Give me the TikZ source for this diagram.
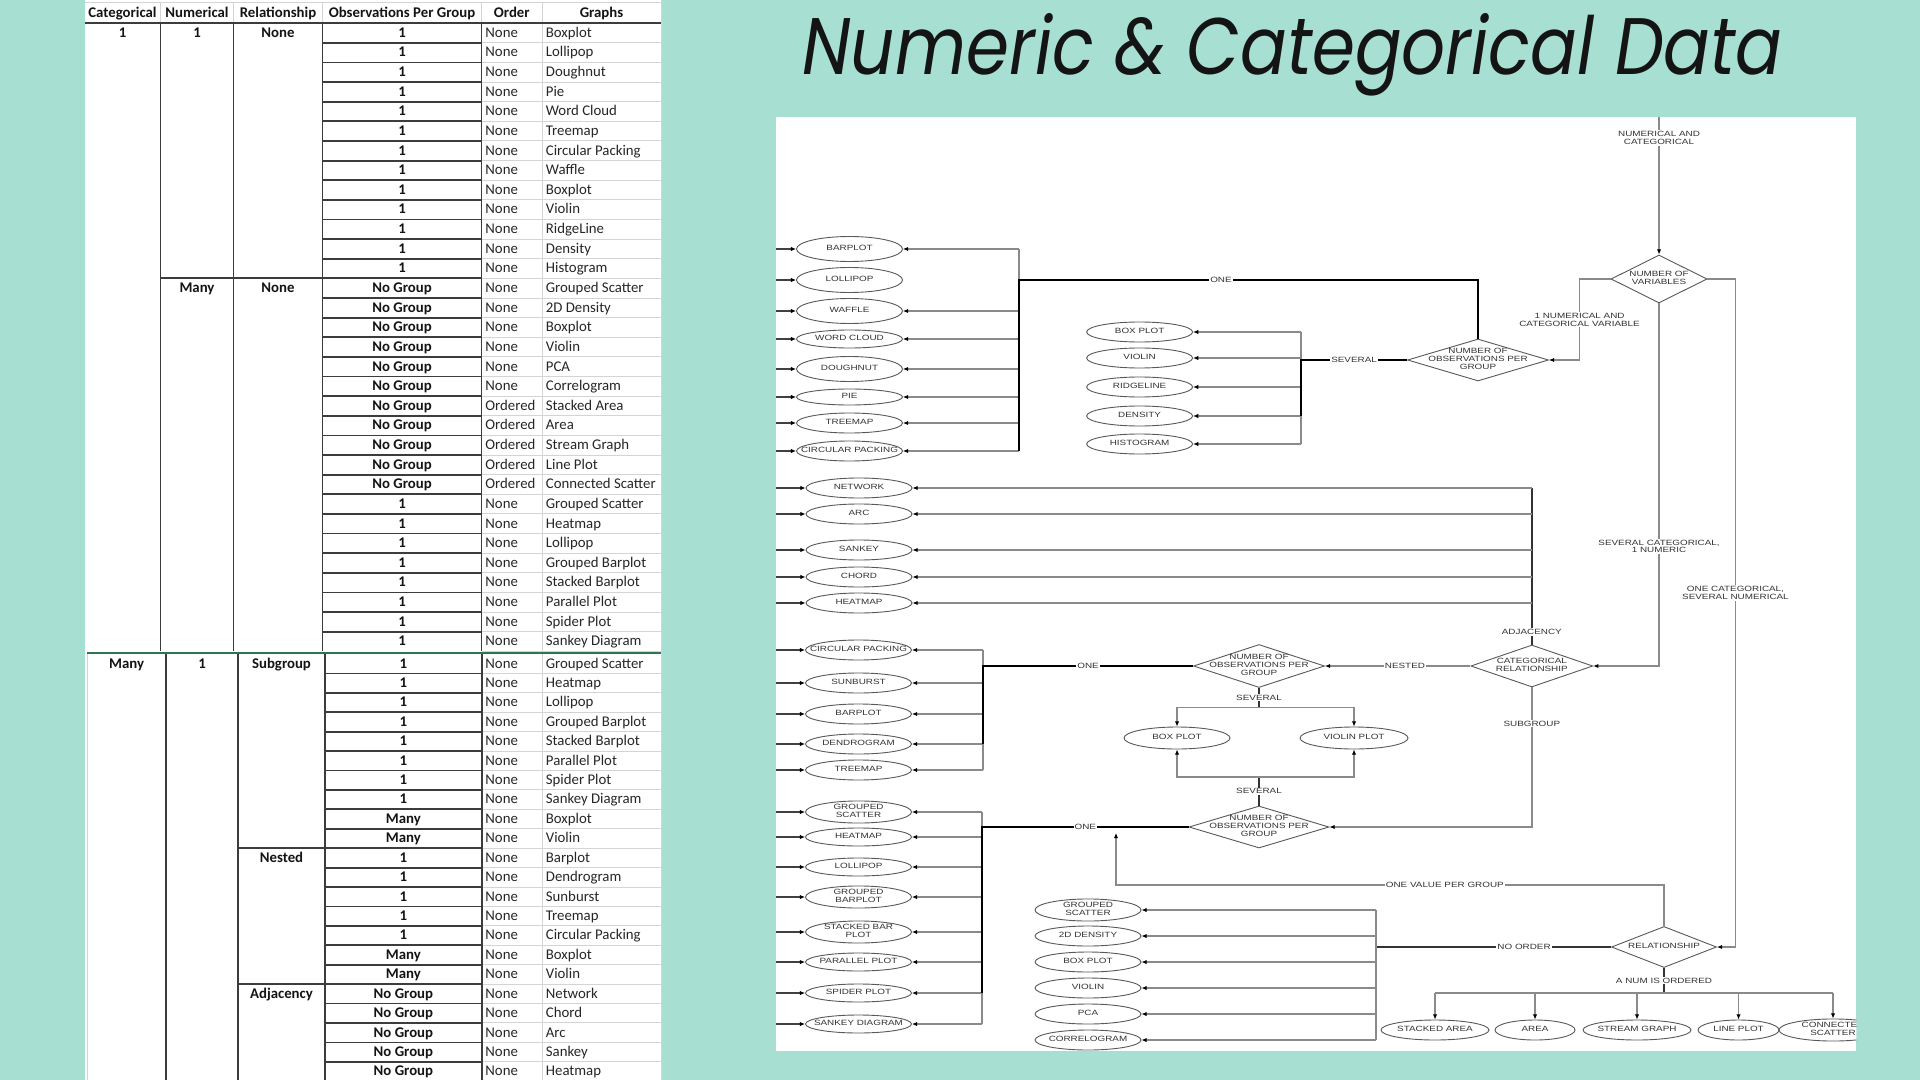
\documentclass[tikz,border=0pt]{standalone}
\usepackage{fontspec}
\usepackage{graphicx}
\usetikzlibrary{arrows.meta,shapes.geometric,calc}
\newfontfamily\tabfont{Carlito}
\newfontfamily\flowfont{Liberation Sans}[FakeStretch=1.3]
\newfontfamily\titlefont{Poppins}
\definecolor{Teal}{HTML}{A8DFD3}
\definecolor{RuleDark}{HTML}{3C3C3C}
\definecolor{GridGray}{HTML}{D4D4D4}
\definecolor{SplitGreen}{HTML}{2E7550}
\definecolor{WireGray}{HTML}{8A8A8A}
\newcommand{\nb}[1]{\makebox[0pt]{\begin{tabular}{@{}c@{}}#1\end{tabular}}}

\begin{document}
\begin{tikzpicture}[x=0.5pt,y=-0.5pt,
    cell/.style={inner sep=0pt,font=\tabfont\fontsize{7.4}{8.5}\selectfont,text=black!85},
    hcell/.style={cell,font=\tabfont\bfseries\fontsize{7.4}{8.5}\selectfont,text=black!92},
    darkrule/.style={RuleDark,line width=0.9pt},
    gridrule/.style={GridGray,line width=0.5pt},
    chart/.style={fill=white,minimum width=540pt,minimum height=466.5pt,inner sep=0pt},
    plot/.style={ellipse,draw=black!65,line width=0.45pt,fill=white,
                 minimum width=53pt,minimum height=10pt,inner sep=0pt,
                 font=\flowfont\fontsize{3.8}{3.9}\selectfont,text=black!80},
    decide/.style={diamond,draw=black!65,line width=0.45pt,fill=white,inner sep=0pt,
                 font=\flowfont\fontsize{3.8}{3.9}\selectfont,text=black!80},
    wire/.style={WireGray,line width=0.75pt},
    darkwire/.style={black!80,line width=0.75pt},
    mainwire/.style={black,line width=1.1pt},
    arr/.style={wire,-{Latex[length=2.6pt,width=2.2pt,color=black]}},
    stub/.style={arr,black!75},
    lbl/.style={fill=white,inner sep=0.5pt,align=center,
                font=\flowfont\fontsize{3.8}{3.9}\selectfont,text=black!80}]

  \useasboundingbox (0,0) rectangle (1920,1080);
  \fill[Teal] (0,0) rectangle (1920,1080);

  % spreadsheet
  \fill[white] (84.5,0) rectangle (661,1080);
  \draw[gridrule] (84.5,3) -- (661,3);
  \foreach \x in {160.5,233.5,322.5,481.5,542}
    \draw[gridrule] (\x,3) -- (\x,23.2);
  \foreach \k in {1,...,32}
    \draw[gridrule] (481.5,{23.2+19.63*\k}) -- (661,{23.2+19.63*\k});
  \foreach \k in {1,...,21}
    \draw[gridrule] (481.8,{654+19.42*\k}) -- (661,{654+19.42*\k});
  \draw[gridrule] (542,23.2) -- (542,1080);
  \draw[gridrule] (661,0) -- (661,1080);
  \draw[gridrule] (87.5,654) -- (87.5,1080);

  \draw[darkrule] (84.5,23.2) -- (661,23.2);
  \foreach \x in {160.5,233.5,322.5,481.5}
    \draw[darkrule] (\x,23.2) -- (\x,651.4);
  \foreach \k in {1,...,31}
    \draw[darkrule] (322.5,{23.2+19.63*\k}) -- (481.5,{23.2+19.63*\k});
  \draw[darkrule] (160.5,278.4) -- (322.5,278.4);
  \foreach \x in {166,238,325,481.8}
    \draw[darkrule] (\x,654) -- (\x,1080);
  \foreach \k in {1,...,21}
    \draw[darkrule] (325,{654+19.42*\k}) -- (481.8,{654+19.42*\k});
  \draw[darkrule] (238,848.2) -- (325,848.2) (238,984.1) -- (325,984.1);
  \draw[SplitGreen,line width=1pt] (87,652.6) -- (661,652.6);

  % header
  \foreach \n/\x/\txt in {hcat/122.5/Categorical, hnum/197/Numerical,
      hrel/278/Relationship, hobs/402/Observations Per Group,
      hord/511.8/Order, hgr/601.5/Graphs}
    \node[hcell,anchor=mid] (\n) at (\x,13.5) {\txt};

  % one categorical
  \node[hcell,anchor=mid] (cat1) at (122.5,33) {1};
  \node[hcell,anchor=mid] (num1) at (197,33) {1};
  \node[hcell,anchor=mid] (rel1) at (278,33) {None};
  \node[hcell,anchor=mid] (num2) at (197,288.2) {Many};
  \node[hcell,anchor=mid] (rel2) at (278,288.2) {None};
  \foreach \i/\ob/\od/\gr in {0/1/None/Boxplot, 1/1/None/Lollipop, 2/1/None/Doughnut,
      3/1/None/Pie, 4/1/None/Word Cloud, 5/1/None/Treemap, 6/1/None/Circular Packing,
      7/1/None/Waffle, 8/1/None/Boxplot, 9/1/None/Violin, 10/1/None/RidgeLine,
      11/1/None/Density, 12/1/None/Histogram, 13/No Group/None/Grouped Scatter,
      14/No Group/None/2D Density, 15/No Group/None/Boxplot, 16/No Group/None/Violin,
      17/No Group/None/PCA, 18/No Group/None/Correlogram, 19/No Group/Ordered/Stacked Area,
      20/No Group/Ordered/Area, 21/No Group/Ordered/Stream Graph,
      22/No Group/Ordered/Line Plot, 23/No Group/Ordered/Connected Scatter,
      24/1/None/Grouped Scatter, 25/1/None/Heatmap, 26/1/None/Lollipop,
      27/1/None/Grouped Barplot, 28/1/None/Stacked Barplot, 29/1/None/Parallel Plot,
      30/1/None/Spider Plot, 31/1/None/Sankey Diagram}{
    \node[hcell,anchor=mid] (oa\i) at (402,{33+19.63*\i}) {\ob};
    \node[cell,anchor=mid west] (da\i) at (485,{33+19.63*\i}) {\od};
    \node[cell,anchor=mid west] (ga\i) at (545.5,{33+19.63*\i}) {\gr};
  }

  % many categorical
  \node[hcell,anchor=mid] (cat2) at (126.7,663.7) {Many};
  \node[hcell,anchor=mid] (num3) at (202,663.7) {1};
  \node[hcell,anchor=mid] (rel3) at (281.5,663.7) {Subgroup};
  \node[hcell,anchor=mid] (rel4) at (281.5,857.9) {Nested};
  \node[hcell,anchor=mid] (rel5) at (281.5,993.8) {Adjacency};
  \foreach \i/\ob/\gr in {0/1/Grouped Scatter, 1/1/Heatmap, 2/1/Lollipop,
      3/1/Grouped Barplot, 4/1/Stacked Barplot, 5/1/Parallel Plot, 6/1/Spider Plot,
      7/1/Sankey Diagram, 8/Many/Boxplot, 9/Many/Violin, 10/1/Barplot,
      11/1/Dendrogram, 12/1/Sunburst, 13/1/Treemap, 14/1/Circular Packing,
      15/Many/Boxplot, 16/Many/Violin, 17/No Group/Network, 18/No Group/Chord,
      19/No Group/Arc, 20/No Group/Sankey, 21/No Group/Heatmap}{
    \node[hcell,anchor=mid] (ob\i) at (403.4,{663.7+19.42*\i}) {\ob};
    \node[cell,anchor=mid west] (db\i) at (485,{663.7+19.42*\i}) {None};
    \node[cell,anchor=mid west] (gb\i) at (545.5,{663.7+19.42*\i}) {\gr};
  }

  % title
  \node[anchor=base west,inner sep=0pt,text=black!92] (title) at (802,75)
    {\resizebox{490pt}{30.5pt}{\titlefont\itshape Numeric \& Categorical Data}};

  % flowchart
  \node[chart] (chart) at (1316,584) {};
  \begin{scope}
    \clip (chart.south west) rectangle (chart.north east);

    \foreach \n/\txt/\y/\h in {bar1/BARPLOT/249/12.5, lol1/LOLLIPOP/280/12.5,
        waf/WAFFLE/311/12.5, wc/WORD CLOUD/339/9, dough/DOUGHNUT/369/12.5,
        pie/PIE/397/8, tree1/TREEMAP/423/10, circ1/CIRCULAR PACKING/451/10}
      \node[plot,minimum height=\h pt] (\n) at (849.5,\y) {\nb{\txt}};
    \foreach \n/\txt/\y in {bp1/BOX PLOT/332, vio1/VIOLIN/358, ridge/RIDGELINE/387,
        dens/DENSITY/416, hist/HISTOGRAM/444}
      \node[plot] (\n) at (1139.6,\y) {\nb{\txt}};
    \foreach \n/\txt/\y in {net/NETWORK/488, arc/ARC/514, sank/SANKEY/550,
        chord/CHORD/577, heat1/HEATMAP/603}
      \node[plot] (\n) at (859,\y) {\nb{\txt}};
    \foreach \n/\txt/\y in {circ2/CIRCULAR PACKING/650, sun/SUNBURST/683,
        bar2/BARPLOT/714, dend/DENDROGRAM/744, tree2/TREEMAP/770}
      \node[plot] (\n) at (858.5,\y) {\nb{\txt}};
    \foreach \n/\txt/\y in {gs1/GROUPED\\SCATTER/812, heat2/HEATMAP/837,
        lol2/LOLLIPOP/867, gbar/GROUPED\\BARPLOT/897, sbar/STACKED BAR\\PLOT/932,
        par/PARALLEL PLOT/962, spi/SPIDER PLOT/993, sd/SANKEY DIAGRAM/1024}
      \node[plot,minimum height=9pt] (\n) at (858.5,\y) {\nb{\txt}};
    \foreach \n/\txt/\y in {gs2/GROUPED\\SCATTER/910, dd/2D DENSITY/936,
        bp3/BOX PLOT/962, vio2/VIOLIN/988, pca/PCA/1014, corr/CORRELOGRAM/1040}
      \node[plot] (\n) at (1088,\y) {\nb{\txt}};
    \foreach \n/\txt/\x/\w in {sa/STACKED AREA/1435/54, area/AREA/1535/40,
        sg/STREAM GRAPH/1637/54, lp/LINE PLOT/1738.5/40.5, cs/CONNECTED\\SCATTER/1833/54}
      \node[plot,minimum width=\w pt] (\n) at (\x,1030) {\nb{\txt}};
    \node[plot,minimum height=11pt] (bp2) at (1177,738) {\nb{BOX PLOT}};
    \node[plot,minimum width=54pt,minimum height=11pt] (vp) at (1354,738) {\nb{VIOLIN PLOT}};

    % decisions
    \node[decide,minimum width=48pt,minimum height=24pt] (nvar) at (1659,279)
      {\nb{NUMBER OF\\VARIABLES}};
    \node[decide,minimum width=70.5pt,minimum height=21pt] (obs1) at (1478,360)
      {\nb{NUMBER OF\\OBSERVATIONS PER\\GROUP}};
    \node[decide,minimum width=61pt,minimum height=21pt] (catrel) at (1531.8,666)
      {\nb{CATEGORICAL\\RELATIONSHIP}};
    \node[decide,minimum width=65.5pt,minimum height=21.5pt] (obs2) at (1259,666)
      {\nb{NUMBER OF\\OBSERVATIONS PER\\GROUP}};
    \node[decide,minimum width=70pt,minimum height=21pt] (obs3) at (1259,827)
      {\nb{NUMBER OF\\OBSERVATIONS PER\\GROUP}};
    \node[decide,minimum width=52.5pt,minimum height=20.5pt] (rel) at (1664,947)
      {\nb{RELATIONSHIP}};

    \coordinate (topin) at (1659,117.5);
    \coordinate (busA) at (1019,280);
    \coordinate (busB) at (1301,360);
    \coordinate (busD) at (983,666);
    \coordinate (busE) at (982,827);
    \coordinate (busF) at (1376,947);
    \coordinate (split) at (1259,707.5);
    \coordinate (join) at (1259,777);
    \coordinate (ordsplit) at (1664,993);
    \coordinate (valbend) at (1116,885);
    \coordinate (valtip) at (1116,833);

    % number of variables
    \draw[arr] (topin) -- node[lbl,pos=0.15]{NUMERICAL AND\\CATEGORICAL} (nvar.north);
    \draw[arr] (nvar.west) -- ++(-31,0) |- node[lbl,pos=0.25]
      {1 NUMERICAL AND\\CATEGORICAL VARIABLE} (obs1.east);
    \draw[arr] (nvar.south) |- node[lbl,pos=0.335]
      {SEVERAL CATEGORICAL,\\1 NUMERIC} (catrel.east);
    \draw[arr] (nvar.east) -- ++(28,0) |- node[lbl,pos=0.235]
      {ONE CATEGORICAL,\\SEVERAL NUMERICAL} (rel.east);

    % one categorical, one numerical
    \draw[wire] (bar1.east -| busA) -- (circ1.east -| busA);
    \foreach \n in {bar1,waf,wc,dough,pie,tree1,circ1}
      \draw[arr] (\n.east -| busA) -- (\n.east);
    \draw[mainwire] (obs1.north) |- node[lbl,pos=0.78]{ONE} (busA)
      -- (circ1.east -| busA);
    \draw[wire] (bp1.east -| busB) -- (hist.east -| busB);
    \foreach \n in {bp1,vio1,ridge,dens,hist}
      \draw[arr] (\n.east -| busB) -- (\n.east);
    \draw[mainwire] (obs1.west) -- node[lbl]{SEVERAL} (busB) -- (dens.east -| busB);

    % adjacency
    \draw[darkwire] (catrel.north) -- node[lbl,pos=0.08]{ADJACENCY}
      (net.east -| catrel.north);
    \foreach \n in {net,arc,sank,chord,heat1}
      \draw[arr] (\n.east -| catrel.north) -- (\n.east);

    % nested
    \draw[arr] (catrel.west) -- node[lbl,pos=0.45]{NESTED} (obs2.east);
    \draw[wire] (circ2.east -| busD) -- (tree2.east -| busD);
    \foreach \n in {circ2,sun,bar2,dend,tree2}
      \draw[arr] (\n.east -| busD) -- (\n.east);
    \draw[mainwire] (obs2.west) -- node[lbl]{ONE} (busD) -- (dend.east -| busD);
    \draw[darkwire] (obs2.south) -- node[lbl]{SEVERAL} (split);
    \draw[arr] (split) -| (bp2.north);
    \draw[arr] (split) -| (vp.north);
    \draw[darkwire] (obs3.north) -- node[lbl]{SEVERAL} (join);
    \draw[arr] (join) -| (bp2.south);
    \draw[arr] (join) -| (vp.south);

    % subgroup
    \draw[arr] (catrel.south) |- node[lbl,pos=0.13]{SUBGROUP} (obs3.east);
    \draw[wire] (gs1.east -| busE) -- (sd.east -| busE);
    \foreach \n in {gs1,heat2,lol2,gbar,sbar,par,spi,sd}
      \draw[arr] (\n.east -| busE) -- (\n.east);
    \draw[mainwire] (obs3.west) -- node[lbl]{ONE} (busE) -- (spi.east -| busE);

    % relationship
    \draw[arr] (rel.north) |- node[lbl,pos=0.70]{ONE VALUE PER GROUP} (valbend) -- (valtip);
    \draw[darkwire] (rel.west) -- node[lbl,pos=0.37]{NO ORDER} (busF);
    \draw[wire] (gs2.east -| busF) -- (corr.east -| busF);
    \foreach \n in {gs2,dd,bp3,vio2,pca,corr}
      \draw[arr] (\n.east -| busF) -- (\n.east);
    \draw[darkwire] (rel.south) -- node[lbl]{A NUM IS ORDERED} (ordsplit);
    \draw[wire] (sa.north |- ordsplit) -- (cs.north |- ordsplit);
    \foreach \n in {sa,area,sg,lp,cs}
      \draw[arr] (\n.north |- ordsplit) -- (\n.north);

    % incoming stubs
    \foreach \n in {bar1,lol1,waf,wc,dough,pie,tree1,circ1,net,arc,sank,chord,heat1,
        circ2,sun,bar2,dend,tree2,gs1,heat2,lol2,gbar,sbar,par,spi,sd}
      \draw[stub] (\n.west -| chart.west) -- (\n.west);
  \end{scope}
\end{tikzpicture}
\end{document}
